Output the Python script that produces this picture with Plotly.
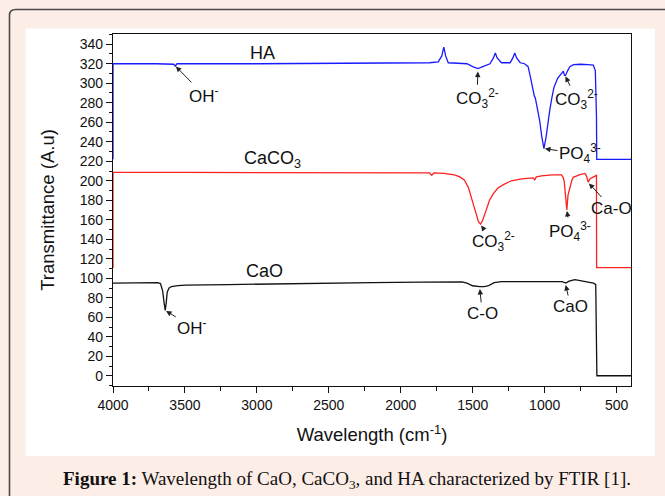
import plotly.graph_objects as go

# ---------------- data (wavenumber cm^-1, transmittance a.u.) ----------------
ha_wn = [4000, 4000, 3700, 3600, 3578, 3568, 3555, 3000, 2500, 2150, 2100, 2050, 2000, 1950,
         1900, 1800, 1740, 1715, 1701, 1688, 1670, 1600, 1540, 1500, 1464, 1430, 1380, 1356,
         1343, 1330, 1300, 1280, 1240, 1221, 1208, 1195, 1170, 1140, 1115, 1100, 1085, 1072,
         1065, 1050, 1035, 1020, 1005, 990, 975, 964, 950, 935, 910, 880, 870, 862, 855, 840,
         825, 800, 750, 700, 662, 648, 642, 640, 638, 400]
ha_t = [222, 320, 320, 320, 319.5, 317.5, 320, 320, 320.5, 320.5, 321, 320.5, 321, 320.5,
        321, 321, 322, 328, 337, 328, 321, 320.5, 320, 317, 315, 317, 320, 326,
        331, 326, 321, 321, 321, 326, 331, 326, 321, 320, 317, 307, 295, 287,
        285, 275, 262, 245, 233, 245, 264, 273, 285, 296, 305, 311, 312.5, 308, 308, 313,
        317, 319, 319.5, 319, 318.5, 313, 290, 266, 222, 222]

caco3_wn = [4000, 4000, 3500, 3000, 2500, 2000, 1800, 1785, 1770, 1700, 1627, 1590, 1557, 1530,
            1510, 1490, 1476, 1460, 1446, 1432, 1418, 1400, 1383, 1360, 1325, 1280, 1232, 1160,
            1092, 1080, 1069, 1058, 1022, 950, 883, 870, 864, 855, 846, 838, 825, 812, 801, 760,
            720, 710, 697, 685, 660, 640, 639, 400]
caco3_t = [110.5, 208.5, 208.5, 208.3, 208.5, 208.3, 208, 205.5, 208, 207.5, 206, 204, 200.5, 193,
           184, 173, 166, 158, 155.5, 159, 165, 173, 180, 186, 192.5, 196.5, 200, 202,
           203.5, 203, 201, 204, 205, 206, 206, 203, 199, 185, 170, 185, 194, 200, 203.5, 206,
           207.5, 205, 198.5, 202, 204, 205.5, 111, 111]

cao_wn = [4000, 3800, 3690, 3670, 3655, 3645, 3637, 3630, 3623, 3610, 3593, 3550, 3493, 3200,
          3000, 2600, 2200, 1850, 1700, 1575, 1540, 1501, 1451, 1420, 1389, 1351, 1300, 1200,
          1102, 1000, 878, 853, 830, 790, 760, 722, 680, 660, 645, 641, 637, 400]
cao_t = [95, 95.5, 95.5, 94.5, 87, 75, 67, 75, 86, 90, 91.5, 92.5, 93, 93.5,
         94, 94.5, 95.5, 96, 96.3, 96.3, 95, 92.3, 91.5, 91.5, 92.5, 95.5, 96.5, 96.5,
         96, 96.5, 96.5, 95, 97, 98.5, 97.5, 96.5, 95.5, 95, 93.5, 45, 0, 0]

series_names = ["HA", "CaCO<sub>3</sub>", "CaO"]
series_label_pos = [(2963, 331), (2890, 222), (2947, 107)]

# peak annotations: (text, head_wn, head_t, text_wn, text_t)
peak_notes = [
    ("OH<sup>-</sup>", 3568, 318, 3370, 288),
    ("CO<sub>3</sub><sup>2-</sup>", 1464, 313, 1470, 284),
    ("CO<sub>3</sub><sup>2-</sup>", 858, 308, 778, 283),
    ("PO<sub>4</sub><sup>3-</sup>", 1005, 233, 755, 227.5),
    ("CO<sub>3</sub><sup>2-</sup>", 1446, 155, 1359, 137.5),
    ("PO<sub>4</sub><sup>3-</sup>", 846, 170, 825, 148),
    ("Ca-O", 697, 198, 534, 172),
    ("OH<sup>-</sup>", 3637, 67, 3449, 50),
    ("C-O", 1451, 90, 1434, 64),
    ("CaO", 855, 94, 820, 71),
]

x_ticks = [4000, 3500, 3000, 2500, 2000, 1500, 1000, 500]
y_ticks = list(range(0, 341, 20))

caption = "<b>Figure 1:</b> Wavelength of CaO, CaCO<sub>3</sub>, and HA characterized by FTIR [1]."

# ---------------- figure ----------------
W, H = 665, 496
ML, MR, MT, MB = 113, 34, 34, 110
PW, PH = W - ML - MR, H - MT - MB


def px(x):
    return (x - ML) / PW


def py(y):
    return (H - MB - y) / PH


fig = go.Figure()
fig.add_trace(go.Scatter(x=ha_wn, y=ha_t, mode="lines", line=dict(color="#1a1aff", width=1.3),
                         showlegend=False, hoverinfo="skip", cliponaxis=False))
fig.add_trace(go.Scatter(x=caco3_wn, y=caco3_t, mode="lines", line=dict(color="#ff2020", width=1.3),
                         showlegend=False, hoverinfo="skip", cliponaxis=False))
fig.add_trace(go.Scatter(x=cao_wn, y=cao_t, mode="lines", line=dict(color="#111111", width=1.3),
                         showlegend=False, hoverinfo="skip"))

font_family = "Liberation Sans, Arial, sans-serif"

for name, (lx, ly) in zip(series_names, series_label_pos):
    fig.add_annotation(x=lx, y=ly, text=name, showarrow=False,
                       font=dict(family=font_family, size=18, color="#111"))

for txt, hx, hy, tx, ty in peak_notes:
    fig.add_annotation(x=hx, y=hy, ax=tx, ay=ty, axref="x", ayref="y", text=txt,
                       showarrow=True, arrowhead=2, arrowsize=1.1, arrowwidth=1,
                       arrowcolor="#222", standoff=1,
                       font=dict(family=font_family, size=17, color="#111"))

# page decoration: white panel and rounded frame
r = 6
shapes = [
    dict(type="rect", xref="paper", yref="paper", layer="below",
         x0=px(25.5), x1=px(655), y0=py(456), y1=py(28.5),
         fillcolor="white", line=dict(width=0)),
    dict(type="path", xref="paper", yref="paper", layer="below",
         path=(f"M {px(9.5)},{py(560)} L {px(9.5)},{py(9.5 + r)} "
               f"Q {px(9.5)},{py(9.5)} {px(9.5 + r)},{py(9.5)} L {px(720)},{py(9.5)}"),
         line=dict(color="#4a4a4a", width=1.6)),
]

fig.add_annotation(xref="paper", yref="paper", x=px(347), y=py(480), text=caption,
                   xanchor="center", yanchor="middle", showarrow=False,
                   font=dict(family="Liberation Serif, Times New Roman, serif",
                             size=19, color="#111"))

fig.update_layout(
    width=W, height=H,
    margin=dict(l=ML, r=MR, t=MT, b=MB, pad=0),
    paper_bgcolor="#fdede7",
    plot_bgcolor="white",
    shapes=shapes,
    font=dict(family=font_family, color="#111"),
)
fig.update_xaxes(range=[4000, 400], tickvals=x_ticks, ticks="outside", ticklen=6, tickwidth=1.2,
                 tickcolor="#111", showline=True, linecolor="#111", linewidth=1.4, mirror=True,
                 showgrid=False, zeroline=False, tickfont=dict(size=14),
                 minor=dict(dtick=250, tick0=0, ticks="outside", ticklen=4, tickcolor="#111"),
                 title=dict(text="Wavelength (cm<sup>-1</sup>)", font=dict(size=18.5), standoff=16))
fig.update_yaxes(range=[-10.5, 350.5], tickvals=y_ticks, ticks="outside", ticklen=6, tickwidth=1.2,
                 tickcolor="#111", showline=True, linecolor="#111", linewidth=1.4, mirror=True,
                 showgrid=False, zeroline=False, tickfont=dict(size=14), layer="below traces",
                 minor=dict(dtick=10, tick0=0, ticks="outside", ticklen=3, tickcolor="#111"),
                 title=dict(text="Transmittance (A.u)", font=dict(size=18.5), standoff=20))

fig.write_html("out.html", config={"displayModeBar": False},
               post_script="document.body.style.margin='0';")
